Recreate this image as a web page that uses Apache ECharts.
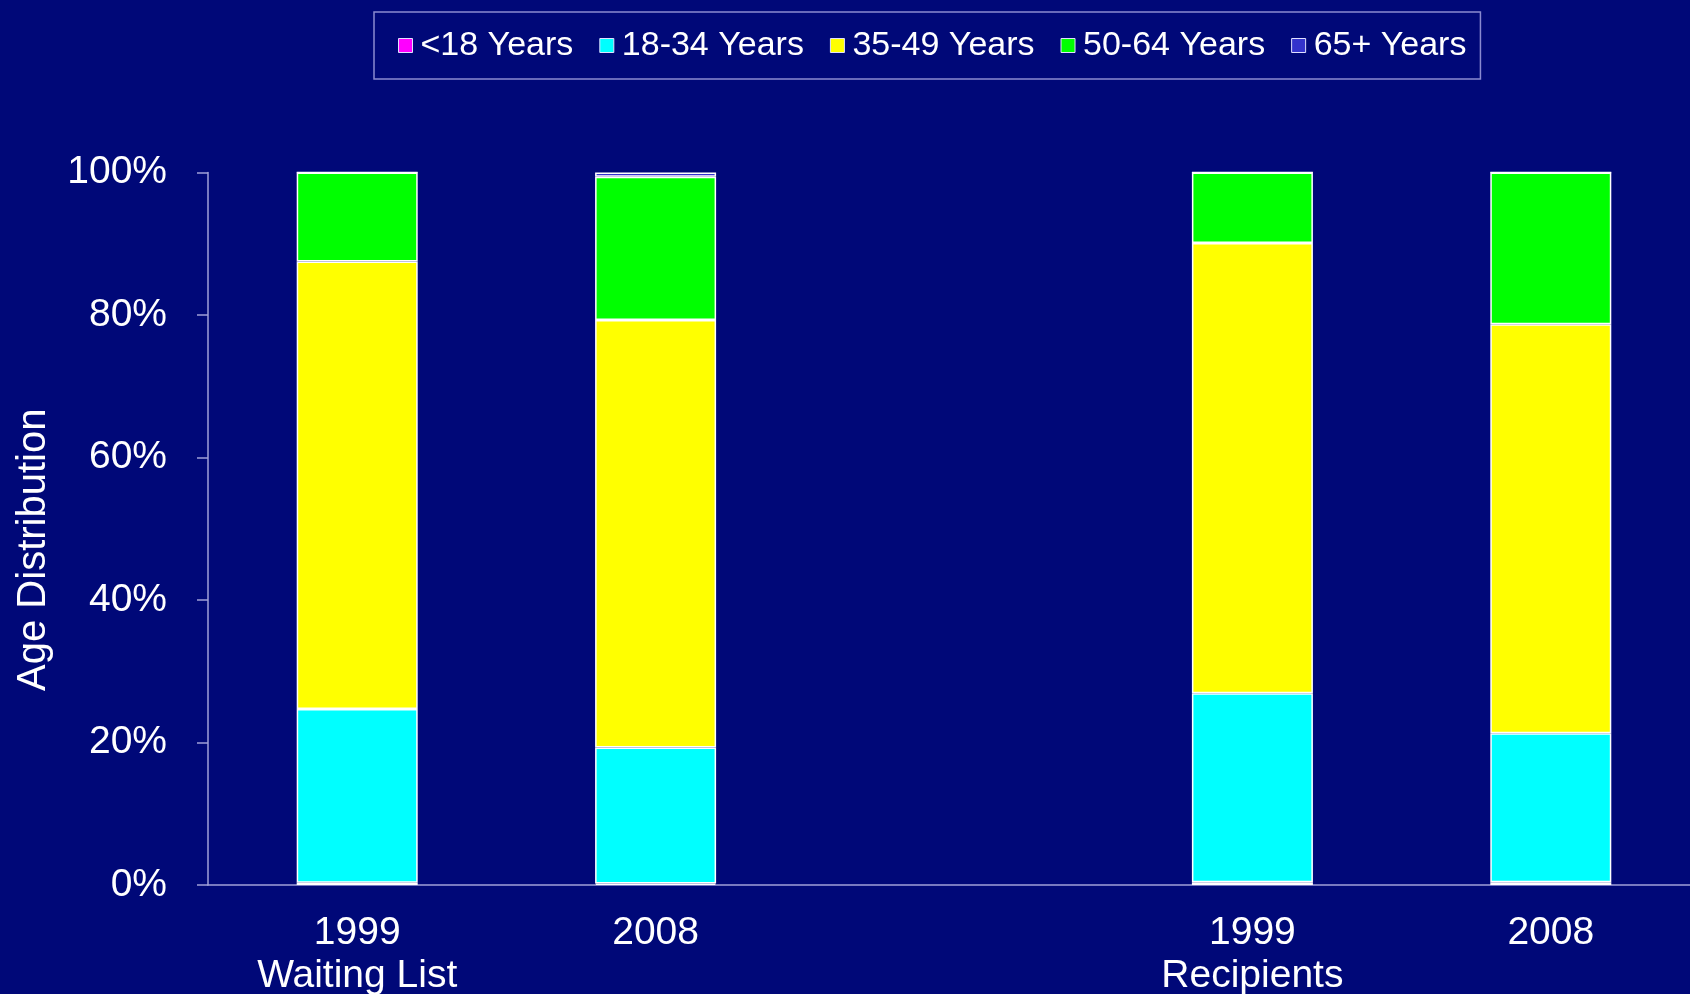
<!DOCTYPE html>
<html>
<head>
<meta charset="utf-8">
<script src="https://cdn.jsdelivr.net/npm/echarts@6/dist/echarts.min.js"></script>
<style>
html,body{margin:0;padding:0;background:#000878;}
#chart{width:1690px;height:994px;}
</style>
</head>
<body>
<div id="chart"></div>
<script>
var categories = ['1999\nWaiting List', '2008', '', '1999\nRecipients', '2008'];
var seriesNames = ['<18 Years', '18-34 Years', '35-49 Years', '50-64 Years', '65+ Years'];
var under18 = [0.3, 0.2, null, 0.4, 0.4];
var age18to34 = [24.4, 19.1, null, 26.5, 20.9];
var age35to49 = [62.8, 60.0, null, 63.2, 57.4];
var age50to64 = [12.5, 20.1, null, 9.9, 21.3];
var age65plus = [0, 0.6, null, 0, 0];
var seriesColors = ['#FF00FF', '#00FFFF', '#FFFF00', '#00FF00', '#3333CC'];

var allData = [under18, age18to34, age35to49, age50to64, age65plus];
var FONT = '"Liberation Sans", Arial, sans-serif';

var chart = echarts.init(document.getElementById('chart'), null, {renderer: 'canvas'});
var series = allData.map(function (d, i) {
  return {
    name: seriesNames[i],
    type: 'bar',
    stack: 'total',
    barWidth: 121,
    data: d,
    itemStyle: {color: seriesColors[i], borderColor: '#ffffff', borderWidth: 1.5},
    emphasis: {disabled: true}
  };
});

chart.setOption({
  backgroundColor: '#000878',
  animation: false,
  legend: {
    data: seriesNames,
    left: 374,
    top: 12,
    padding: [16, 14, 16, 24],
    itemGap: 26,
    itemWidth: 14,
    itemHeight: 14,
    icon: 'rect',
    borderColor: '#8a8ad0',
    borderWidth: 1.5,
    itemStyle: {borderColor: '#e0e0ff', borderWidth: 1},
    textStyle: {color: '#ffffff', fontSize: 34, fontFamily: FONT, lineHeight: 35, padding: [0, 0, 0, 3]}
  },
  grid: {left: 208, width: 1492, top: 172.5, bottom: 109, containLabel: false, outerBoundsMode: 'none'},
  xAxis: {
    type: 'category',
    data: categories,
    axisLine: {lineStyle: {color: '#a0a0d8', width: 1.5}},
    axisTick: {show: false},
    axisLabel: {color: '#ffffff', fontSize: 39, fontFamily: FONT, lineHeight: 43, margin: 27, interval: 0}
  },
  yAxis: {
    type: 'value',
    min: 0,
    max: 100,
    interval: 20,
    name: 'Age Distribution',
    nameLocation: 'middle',
    nameGap: 154,
    nameTextStyle: {color: '#ffffff', fontSize: 40, fontFamily: FONT, padding: [0, 42, 0, 0]},
    axisLine: {show: true, lineStyle: {color: '#a0a0d8', width: 1.5}},
    axisTick: {show: true, length: 11, lineStyle: {color: '#a0a0d8', width: 1.5}},
    splitLine: {show: false},
    axisLabel: {color: '#ffffff', fontSize: 39, fontFamily: FONT, margin: 41, formatter: '{value}%'}
  },
  series: series
});
</script>
</body>
</html>
